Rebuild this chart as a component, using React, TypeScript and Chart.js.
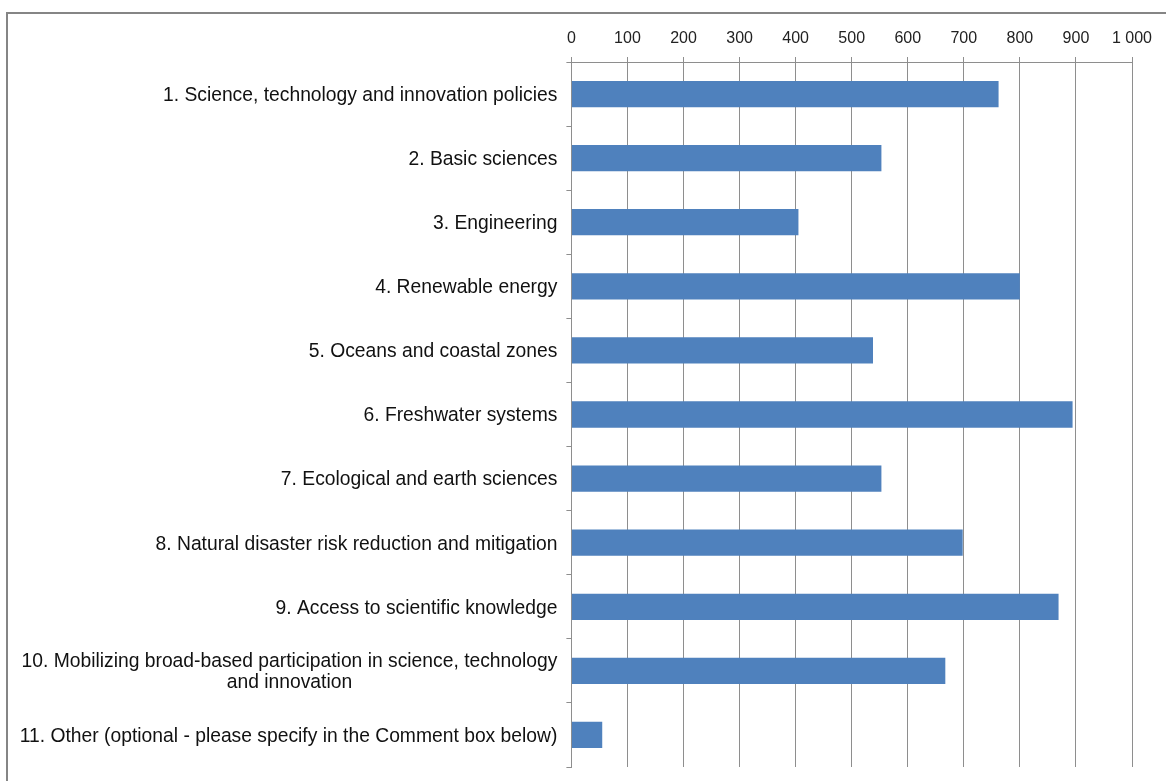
import React, { useEffect, useRef } from "react";
import { Chart, registerables } from "chart.js";

Chart.register(...registerables);

const categories: (string | string[])[] = [
  "1. Science, technology and innovation policies",
  "2. Basic sciences",
  "3. Engineering",
  "4. Renewable energy",
  "5. Oceans and coastal zones",
  "6. Freshwater systems",
  "7. Ecological and earth sciences",
  "8. Natural disaster risk reduction and mitigation",
  "9. Access to scientific knowledge",
  ["10. Mobilizing broad-based participation in science, technology", "and innovation"],
  "11. Other (optional - please specify in the Comment box below)",
];

const responses = [762, 553, 405, 800, 538, 894, 553, 698, 869, 667, 55];

const xMin = 0;
const xMax = 1000;
const xStep = 100;

const FONT_FAMILY = '"Liberation Sans", Arial, sans-serif';
const LABEL_SIZE = 19.3;
const TICK_SIZE = 16;
const TEXT = "#111111";
const TICK_TEXT = "#222222";
const GRID = "#8e8e8e";
const BAR = "#4F81BD";

const fmt = (v: number) => String(v).replace(/\B(?=(\d{3})+(?!\d))/g, " ");

const yLabelPlugin = {
  id: "yLabels",
  afterDraw(chart: any) {
    const scale = chart.scales.y;
    const ctx = chart.ctx;
    ctx.save();
    ctx.font = `${LABEL_SIZE}px ${FONT_FAMILY}`;
    ctx.fillStyle = TEXT;
    ctx.textBaseline = "middle";
    ctx.textAlign = "center";
    const xr = scale.right - 5 - 9;
    categories.forEach((lab, i) => {
      const y = scale.getPixelForTick(i) + 1.5;
      const lines = Array.isArray(lab) ? lab : [lab];
      const maxW = Math.max(...lines.map((l) => ctx.measureText(l).width));
      const lh = 21;
      lines.forEach((l, j) => {
        const ly = y + (j - (lines.length - 1) / 2) * lh;
        ctx.fillText(l, xr - maxW / 2, ly);
      });
    });
    ctx.restore();
  },
};

export default function App() {
  const ref = useRef<HTMLCanvasElement>(null);

  useEffect(() => {
    if (!ref.current) return;
    const chart = new Chart(ref.current, {
      type: "bar",
      data: {
        labels: categories.map((c) => (Array.isArray(c) ? c.join(" ") : c)),
        datasets: [
          {
            data: responses,
            backgroundColor: BAR,
            borderWidth: 0,
            barPercentage: 0.41,
            categoryPercentage: 1,
          },
        ],
      },
      options: {
        indexAxis: "y",
        responsive: false,
        animation: false,
        layout: { padding: { top: 0, left: 0, right: 34, bottom: 14 } },
        plugins: {
          legend: { display: false },
          tooltip: { enabled: false },
        },
        scales: {
          x: {
            position: "top",
            min: xMin,
            max: xMax,
            afterFit: (s: any) => {
              s.height = 62;
            },
            ticks: {
              stepSize: xStep,
              padding: 9,
              color: TICK_TEXT,
              font: { family: FONT_FAMILY, size: TICK_SIZE },
              callback: (v: any) => fmt(Number(v)),
            },
            grid: {
              color: GRID,
              lineWidth: 1,
              drawTicks: true,
              tickLength: 5,
            },
            border: { display: true, color: GRID, width: 1 },
          },
          y: {
            afterFit: (s: any) => {
              s.width = 571.4;
            },
            ticks: {
              color: "rgba(0,0,0,0)",
              padding: 9,
              font: { family: FONT_FAMILY, size: 1 },
            },
            grid: {
              offset: true,
              drawOnChartArea: false,
              drawTicks: true,
              tickLength: 5,
              color: GRID,
            },
            border: { display: true, color: GRID, width: 1 },
          },
        },
      },
      plugins: [yLabelPlugin],
    });
    return () => chart.destroy();
  }, []);

  return (
    <div
      style={{
        position: "fixed",
        left: 0,
        top: 0,
        width: 1166,
        height: 781,
        overflow: "hidden",
        background: "#fff",
      }}
    >
      <div
        style={{
          position: "absolute",
          left: 6,
          top: 12,
          right: -10,
          bottom: -10,
          borderLeft: "2px solid #858585",
          borderTop: "2px solid #858585",
        }}
      />
      <canvas
        ref={ref}
        width={1166}
        height={781}
        style={{ position: "absolute", left: 0, top: 0, width: 1166, height: 781 }}
      />
    </div>
  );
}
